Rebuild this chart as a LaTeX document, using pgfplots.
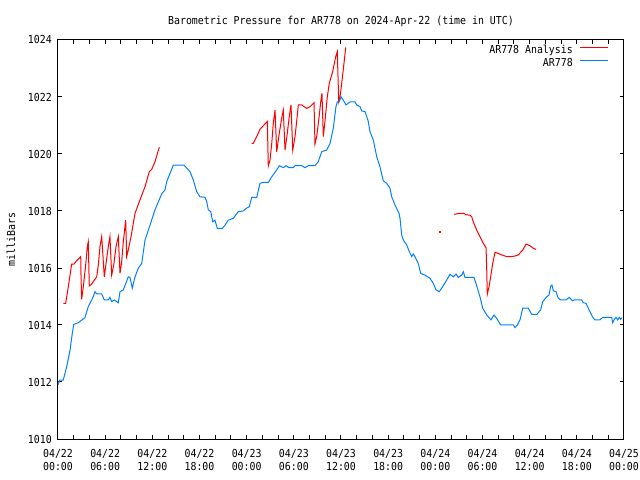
\documentclass[border=0pt]{standalone}
\usepackage{fontspec}
\setmainfont{DejaVu Sans Mono}[FakeStretch=0.9]
\usepackage{pgfplots}
\pgfplotsset{compat=1.18}
\definecolor{garred}{RGB}{255,0,0}
\definecolor{garblue}{RGB}{0,128,255}
\begin{document}
\begin{tikzpicture}[font=\fontsize{11bp}{12.8bp}\selectfont]
\path[use as bounding box] (-58bp,-41bp) rectangle (582bp,439bp);
\begin{axis}[
  at={(0,0)}, anchor=south west,
  scale only axis, width=566bp, height=399bp,
  xmin=0, xmax=72, ymin=1010, ymax=1024,
  xtick={0,6,...,72},
  minor xtick={0,2,...,72},
  xticklabels={04/22\\00:00,04/22\\06:00,04/22\\12:00,04/22\\18:00,04/23\\00:00,04/23\\06:00,04/23\\12:00,04/23\\18:00,04/24\\00:00,04/24\\06:00,04/24\\12:00,04/24\\18:00,04/25\\00:00},
  ytick={1010,1012,...,1024},
  yticklabels={1010,1012,1014,1016,1018,1020,1022,1024},
  tick align=inside,
  major tick length=4bp, minor tick length=4bp,
  every tick/.style={black, line width=1bp},
  axis line style={black, line width=1bp},
  xticklabel style={align=center, inner sep=0pt, yshift=-10bp},
  yticklabel style={inner sep=0pt, xshift=-6bp},
  title={Barometric Pressure for AR778 on 2024-Apr-22 (time in UTC)},
  title style={at={(0.5,1)}, anchor=center, yshift=13bp, inner sep=0pt},
  ylabel={milliBars},
  ylabel style={at={(axis description cs:0,0.5)}, anchor=center, yshift=47bp, inner sep=0pt},
  legend plot pos=right,
  legend cell align=right,
  legend style={at={(1,1)}, anchor=north east, xshift=-15bp, yshift=-5.5bp, draw=none, fill=none,
    row sep=2bp, column sep=7bp, inner sep=0pt,
    nodes={inner sep=0pt, text height=8bp, text depth=2.5bp}},
  legend image code/.code={\draw[#1] (0bp,3bp) -- (28bp,3bp);},
  unbounded coords=jump,
  clip=true,
]
\addplot[garred, line width=1bp] coordinates {
(0.67,1014.76) (0.98,1014.76) (1.31,1015.34) (1.74,1016.14) (2.04,1016.14) (2.38,1016.26)
(2.89,1016.40) (2.93,1015.69) (3.01,1014.90) (3.22,1015.34) (3.52,1016.10) (3.73,1016.75)
(3.85,1016.92) (3.98,1015.37) (4.29,1015.44) (4.92,1015.69) (5.13,1016.10) (5.34,1016.75)
(5.56,1017.10) (5.89,1015.69) (6.11,1016.16) (6.40,1016.75) (6.61,1017.10) (6.83,1015.75)
(7.12,1016.16) (7.38,1016.75) (7.67,1017.10) (7.89,1015.81) (8.10,1016.22) (8.31,1016.92)
(8.61,1017.68) (8.74,1016.40) (8.94,1016.63) (9.29,1017.10) (9.58,1017.57) (9.80,1017.92)
(10.43,1018.39) (11.07,1018.85) (11.61,1019.38) (11.92,1019.46) (12.34,1019.73) (12.89,1020.24)
(13.0,nan)
(24.64,1020.37) (24.84,1020.37) (25.28,1020.61) (25.70,1020.87) (26.21,1021.02) (26.63,1021.14)
(26.75,1019.58) (26.97,1019.79) (27.19,1020.37) (27.39,1021.08) (27.61,1021.54) (27.82,1020.08)
(28.15,1020.73) (28.46,1021.26) (28.66,1021.54) (28.88,1020.14) (29.17,1020.73) (29.42,1021.32)
(29.64,1021.72) (29.86,1020.14) (30.15,1020.61) (30.36,1021.14) (30.57,1021.72) (31.00,1021.72)
(31.64,1021.60) (32.06,1021.66) (32.57,1021.80) (32.69,1020.35) (32.91,1020.61) (33.20,1021.26)
(33.42,1021.83) (33.58,1022.13) (33.75,1020.61) (33.96,1021.14) (34.26,1022.01) (34.51,1022.48)
(34.94,1022.89) (35.33,1023.42) (35.53,1023.59) (35.71,1021.83) (35.88,1022.01) (36.09,1022.48)
(36.38,1023.18) (36.60,1023.74)
(37.0,nan)
(50.41,1017.88) (51.05,1017.92) (51.56,1017.92) (51.90,1017.87) (52.41,1017.85) (52.63,1017.80)
(52.83,1017.62) (53.26,1017.33) (53.68,1017.10) (54.10,1016.87) (54.45,1016.71) (54.54,1015.93)
(54.61,1015.08) (54.83,1015.34) (55.04,1015.69) (55.30,1016.16) (55.59,1016.55) (56.01,1016.51)
(56.44,1016.46) (57.07,1016.40) (57.71,1016.40) (58.13,1016.42) (58.55,1016.46) (59.12,1016.63)
(59.54,1016.84) (60.04,1016.78) (60.47,1016.69) (60.81,1016.65)
};
\addlegendentry{AR778 Analysis}
\addplot[garred, only marks, mark=square*, mark size=0.5bp, forget plot] coordinates {(48.51,1017.29)};
\addplot[garblue, line width=1bp] coordinates {
(0.00,1011.90) (0.22,1012.07) (0.67,1012.07) (1.11,1012.54) (1.53,1013.12) (1.82,1013.71)
(2.00,1014.02) (2.58,1014.08) (3.43,1014.26) (3.85,1014.64) (4.49,1015.00) (4.71,1015.17)
(4.92,1015.09) (5.56,1015.09) (5.89,1014.88) (6.40,1014.88) (6.61,1014.97) (6.83,1014.82)
(7.16,1014.88) (7.67,1014.78) (7.89,1015.17) (8.31,1015.23) (8.94,1015.69) (9.16,1015.67)
(9.45,1015.29) (9.80,1015.69) (10.21,1015.99) (10.65,1016.16) (11.07,1016.98) (11.70,1017.50)
(12.34,1018.04) (13.19,1018.60) (13.61,1018.74) (13.83,1019.03) (14.25,1019.32) (14.67,1019.61)
(16.03,1019.61) (16.79,1019.38) (17.21,1019.09) (17.64,1018.68) (18.06,1018.50) (18.70,1018.48)
(18.92,1018.33) (19.12,1018.04) (19.43,1017.98) (19.68,1017.62) (19.97,1017.68) (20.26,1017.39)
(20.90,1017.39) (21.24,1017.50) (21.66,1017.68) (22.30,1017.74) (22.94,1017.98) (23.57,1018.00)
(23.92,1018.09) (24.34,1018.15) (24.64,1018.48) (25.28,1018.48) (25.70,1018.97) (26.04,1019.00)
(26.75,1019.00) (27.19,1019.20) (27.82,1019.44) (28.15,1019.59) (28.66,1019.52) (29.00,1019.59)
(29.39,1019.52) (29.93,1019.52) (30.15,1019.59) (31.00,1019.59) (31.42,1019.52) (31.84,1019.59)
(32.69,1019.59) (33.11,1019.73) (33.55,1020.08) (34.18,1020.14) (34.60,1020.37) (35.02,1020.90)
(35.36,1021.66) (35.53,1021.83) (35.78,1021.83) (36.00,1022.01) (36.29,1021.89) (36.64,1021.72)
(37.15,1021.83) (37.78,1021.83) (38.00,1021.72) (38.42,1021.66) (38.63,1021.51) (39.05,1021.49)
(39.27,1021.32) (39.47,1021.14) (39.69,1020.78) (40.11,1020.49) (40.54,1019.91) (40.96,1019.55)
(41.38,1019.06) (41.81,1018.97) (42.23,1018.80) (42.45,1018.50) (42.87,1018.21) (43.38,1017.92)
(43.51,1017.74) (43.72,1017.16) (43.93,1016.98) (44.36,1016.81) (44.69,1016.57) (45.00,1016.40)
(45.20,1016.49) (45.41,1016.40) (45.83,1016.16) (46.14,1015.81) (46.69,1015.75) (47.32,1015.64)
(47.74,1015.46) (48.09,1015.23) (48.51,1015.17) (48.94,1015.35) (49.45,1015.58) (49.87,1015.78)
(50.29,1015.69) (50.63,1015.79) (50.92,1015.67) (51.35,1015.75) (51.56,1015.87) (51.77,1015.67)
(52.92,1015.67) (53.17,1015.46) (53.68,1014.99) (54.03,1014.59) (54.54,1014.35) (55.08,1014.18)
(55.46,1014.35) (55.81,1014.23) (56.32,1014.00) (57.92,1014.00) (58.14,1013.91) (58.43,1014.00)
(58.77,1014.18) (59.12,1014.59) (59.83,1014.59) (60.26,1014.37) (60.90,1014.37) (61.40,1014.53)
(61.66,1014.82) (62.17,1014.99) (62.46,1015.05) (62.68,1015.37) (62.84,1015.40) (63.01,1015.20)
(63.35,1015.17) (63.64,1014.94) (63.95,1014.88) (64.62,1014.88) (65.04,1014.97) (65.47,1014.85)
(65.68,1014.88) (66.62,1014.88) (66.82,1014.78) (67.17,1014.76) (67.46,1014.59) (67.77,1014.41)
(68.02,1014.27) (68.31,1014.18) (68.95,1014.18) (69.29,1014.27) (70.44,1014.27) (70.56,1014.08)
(70.73,1014.18) (70.98,1014.27) (71.20,1014.18) (71.40,1014.27) (71.58,1014.20) (71.75,1014.26)
};
\addlegendentry{AR778}
\end{axis}
\end{tikzpicture}
\end{document}
